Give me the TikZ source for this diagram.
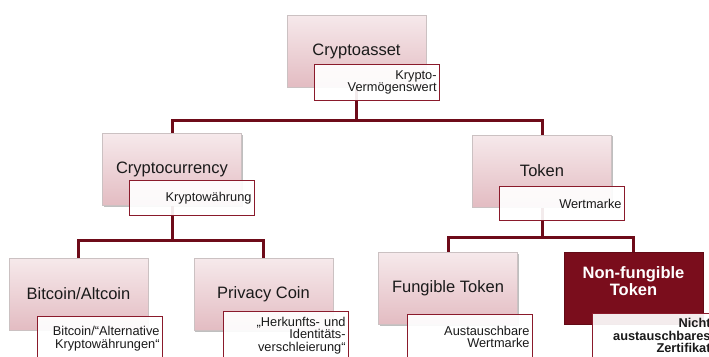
\documentclass[tikz,border=0pt]{standalone}
\usepackage{fontspec}
\setmainfont{Liberation Sans}
\usetikzlibrary{backgrounds,shadows}

\definecolor{wine}{HTML}{6E0B19}
\definecolor{labelline}{HTML}{8A1A2B}
\definecolor{rosetop}{HTML}{F6E9EB}
\definecolor{rosebot}{HTML}{E3BCC2}
\definecolor{nftfill}{HTML}{7A0D1C}
\definecolor{boxline}{HTML}{CBC1C2}
\definecolor{ink}{HTML}{1A1A1A}

\tikzset{
  term/.style={rectangle, minimum width=139pt, minimum height=72pt,
    inner sep=2pt, align=center, top color=rosetop, bottom color=rosebot,
    draw=boxline, line width=0.8pt, text=ink,
    font=\fontsize{16.5}{17}\selectfont,
    drop shadow={shadow xshift=1.2pt, shadow yshift=-1.2pt, opacity=0.25, fill=black}},
  termdark/.style={term, top color=nftfill, bottom color=nftfill, draw=nftfill!80!black,
    text=white, font=\fontsize{16.5}{17}\selectfont\bfseries},
  gloss/.style={rectangle, anchor=north west, draw=labelline, line width=1.2pt,
    fill=white, fill opacity=0.92, text opacity=1, text=ink,
    text width=119pt, inner xsep=3pt, inner ysep=1pt, align=right,
    font=\fontsize{12.8}{12.2}\selectfont},
  conn/.style={draw=wine, line width=3pt, line join=miter}
}

\begin{document}
\begin{tikzpicture}[x=1pt, y=-1pt]
  \path[use as bounding box] (0,0) rectangle (709,356);
  \clip (0,0) rectangle (709,356);

  % classification boxes
  \node[term] (ca) at (356.5,51) {Cryptoasset};
  \node[term] (cc) at (172,169.5) {Cryptocurrency};
  \node[term] (tk) at (542,171) {Token};
  \node[term] (bc) at (78.5,294) {Bitcoin/Altcoin};
  \node[term] (pc) at (263.5,294.5) {Privacy Coin};
  \node[term] (ft) at (448,288.5) {Fungible Token};
  \node[termdark] (nft) at (633.5,288)
    {\raisebox{4pt}[\height][\depth]{\begin{tabular}{@{}c@{}}Non-fungible\\Token\end{tabular}}};

  % German glosses
  \node[gloss, minimum height=36pt] (lca) at (314,64) {Krypto-\\Vermögenswert};
  \node[gloss, minimum height=35pt] (lcc) at (129,180) {Kryptowährung};
  \node[gloss, minimum height=34pt] (ltk) at (499,186) {Wertmarke};
  \node[gloss, minimum height=44pt] (lbc) at (37,316) {Bitcoin/“Alternative\\Kryptowährungen“};
  \node[gloss, minimum height=48pt] (lpc) at (223,311) {„Herkunfts- und\\Identitäts-\\verschleierung“};
  \node[gloss, minimum height=44pt] (lft) at (407,314) {Austauschbare\\Wertmarke};
  \node[gloss, minimum height=44pt, text width=115pt, inner xsep=3pt,
        font=\fontsize{12.8}{12.2}\selectfont\bfseries] (lnft) at (592,313)
    {Nicht\\austauschbares\\Zertifikat};

  % tree connectors
  \coordinate (j1) at (0,120);
  \coordinate (j2) at (0,240);
  \coordinate (j3) at (0,237);
  \begin{scope}[on background layer]
    \draw[conn] (ca.center) -- (ca |- j1) -| (cc.north);
    \draw[conn] (ca |- j1) -| (tk.north);
    \draw[conn] (cc.center) -- (cc |- j2) -| (bc.north);
    \draw[conn] (cc |- j2) -| (pc.north);
    \draw[conn] (tk.center) -- (tk |- j3) -| (ft.north);
    \draw[conn] (tk |- j3) -| (nft.north);
  \end{scope}
\end{tikzpicture}
\end{document}
